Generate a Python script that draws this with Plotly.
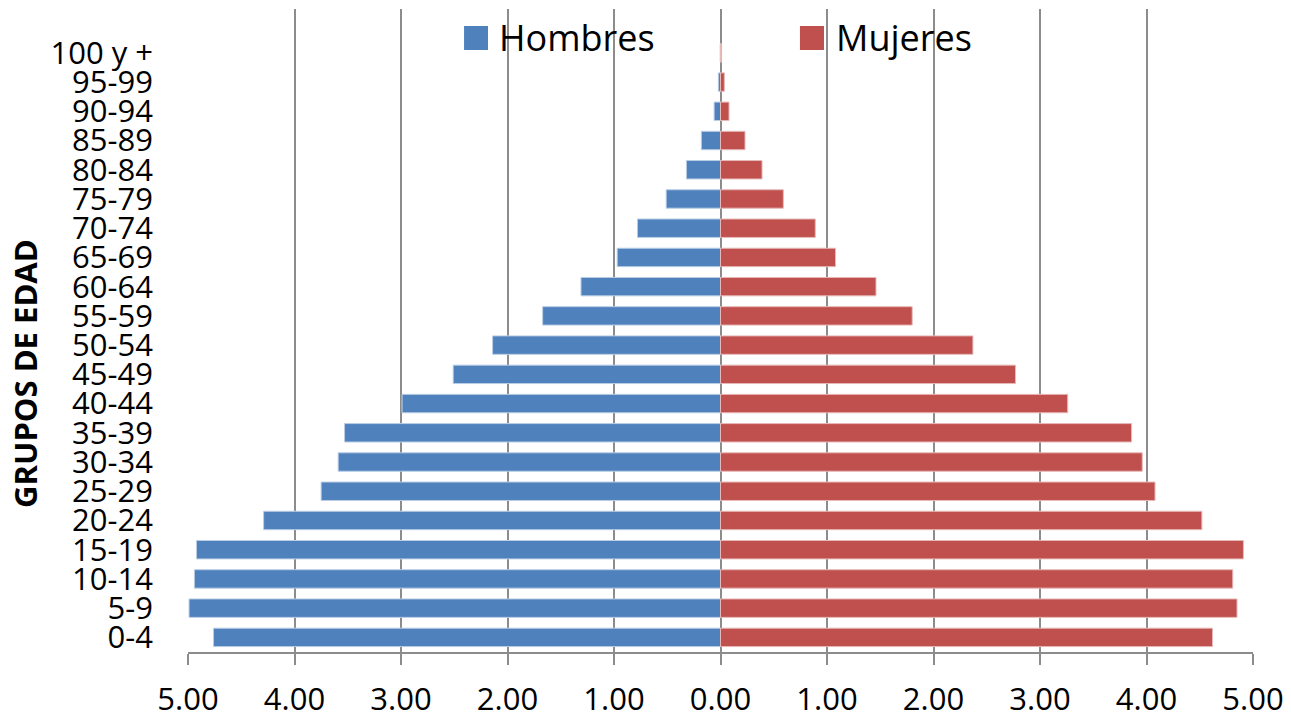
import plotly.graph_objects as go

age_groups = ["0-4", "5-9", "10-14", "15-19", "20-24", "25-29", "30-34", "35-39",
              "40-44", "45-49", "50-54", "55-59", "60-64", "65-69", "70-74",
              "75-79", "80-84", "85-89", "90-94", "95-99", "100 y +"]
hombres = [4.76, 4.99, 4.94, 4.92, 4.29, 3.75, 3.59, 3.53, 2.99, 2.51, 2.14,
           1.67, 1.31, 0.97, 0.78, 0.51, 0.32, 0.18, 0.06, 0.02, 0.003]
mujeres = [4.62, 4.85, 4.81, 4.91, 4.52, 4.08, 3.96, 3.86, 3.26, 2.77, 2.37,
           1.80, 1.46, 1.08, 0.89, 0.59, 0.39, 0.23, 0.08, 0.036, 0.01]
x_tick_vals = [-5, -4, -3, -2, -1, 0, 1, 2, 3, 4, 5]
x_tick_text = ["5.00", "4.00", "3.00", "2.00", "1.00", "0.00", "1.00", "2.00", "3.00", "4.00", "5.00"]
series_names = ["Hombres", "Mujeres"]

BLUE = "#4F81BD"
RED = "#C0504D"
GRID = "#8C8C8C"
FONT = "Open Sans"

pos = list(range(len(age_groups)))

fig = go.Figure()
fig.add_trace(go.Bar(y=pos, x=[-v for v in hombres], orientation="h", width=0.63,
                     marker=dict(color=BLUE, line=dict(color="#B9CDE5", width=1)),
                     name=series_names[0], showlegend=False))
fig.add_trace(go.Bar(y=pos, x=mujeres, orientation="h", width=0.63,
                     marker=dict(color=RED, line=dict(color="#E6B9B8", width=1)),
                     name=series_names[1], showlegend=False))

# manual legend (paper coordinates)
legend_items = [
    (series_names[0], BLUE, 0.2592, 0.2817, 0.2900),
    (series_names[1], RED, 0.5746, 0.5972, 0.6064),
]
shapes = []
annotations = []
for name, col, sx0, sx1, tx in legend_items:
    shapes.append(dict(type="rect", xref="paper", yref="paper", x0=sx0, x1=sx1,
                       y0=0.9362, y1=0.9736, fillcolor=col, line=dict(width=0),
                       layer="above"))
    annotations.append(dict(text=name, xref="paper", yref="paper", x=tx, y=0.9549,
                            xanchor="left", yanchor="middle", showarrow=False,
                            font=dict(size=36, family=FONT, color="black")))
annotations.append(dict(text="<b>GRUPOS DE EDAD</b>", xref="paper", yref="paper",
                        x=-0.1531, y=0.4339, xanchor="center", yanchor="middle",
                        textangle=-90, showarrow=False,
                        font=dict(size=31, family=FONT, color="black")))

# the page body has an 8px margin, so the figure is sized to fit the window
fig.update_layout(
    width=1283, height=708,
    margin=dict(l=180, r=38, t=1, b=64),
    paper_bgcolor="white", plot_bgcolor="white",
    barmode="overlay",
    showlegend=False,
    font=dict(family=FONT, size=30, color="black"),
    shapes=shapes,
    annotations=annotations,
    xaxis=dict(range=[-5, 5], tickvals=x_tick_vals, ticktext=x_tick_text,
               showgrid=True, gridcolor=GRID, gridwidth=1.5,
               zeroline=False, showline=True, linecolor=GRID, linewidth=1.5,
               ticks="outside", ticklen=11, tickcolor=GRID, tickwidth=1.5,
               tickfont=dict(size=31), ticklabelstandoff=8, automargin=False),
    yaxis=dict(range=[-0.5, 21.5], tickvals=pos, ticktext=age_groups,
               showgrid=False, zeroline=False, showline=False,
               tickfont=dict(size=31), ticklabelstandoff=34, automargin=False),
)

fig.write_html("out.html")
